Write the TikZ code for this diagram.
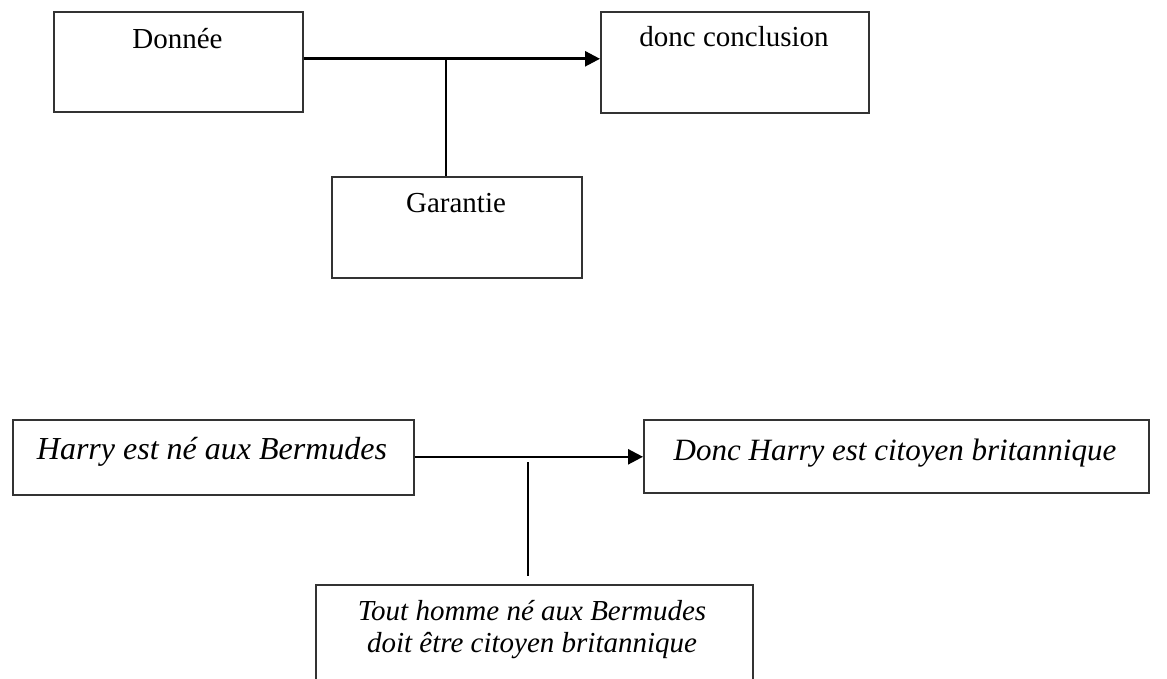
\documentclass[tikz,border=0pt]{standalone}
\usepackage{fontspec}
\setmainfont{Liberation Serif}
\usetikzlibrary{arrows.meta}
\begin{document}
\begin{tikzpicture}[x=1pt,y=-1pt,
  box/.style={draw=black!80,line width=1.6pt,inner sep=0pt,anchor=north west},
  txt/.style={anchor=base,inner sep=0pt,font=\fontsize{29}{34}\selectfont},
  itxt/.style={anchor=base,inner sep=0pt,font=\fontsize{#1}{34}\selectfont\itshape},
  itxt/.default=29,
  arrowline/.style={line width=2.6pt,-{Triangle[length=15pt,width=15pt]}},
  stem/.style={line width=2pt}]
\useasboundingbox (0,0) rectangle (1167,679);

% Top scheme: data, warrant, conclusion
\node[box,minimum width=249pt,minimum height=100pt] (don) at (53,11) {};
\node[box,minimum width=268pt,minimum height=101pt] (con) at (600,11) {};
\node[box,minimum width=250pt,minimum height=101pt] (gar) at (331,176) {};
\node[txt] (donT) at (177.5,49) {Donnée};
\node[txt] (conT) at (734,47) {donc conclusion};
\node[txt] (garT) at (456,212.7) {Garantie};
\draw[arrowline] ([yshift=3pt]don.east) -- ([yshift=3.5pt]con.west);
\coordinate (j1) at (446,58);
\draw[stem] (j1) -- (j1 |- gar.north);

% Bottom scheme: the Bermuda example
\node[box,minimum width=401pt,minimum height=75pt] (har) at (12,419) {};
\node[box,minimum width=505pt,minimum height=73pt] (cit) at (643,419) {};
\node[box,minimum width=437pt,minimum height=120pt] (tout) at (315,584) {};
\node[itxt=32] (harT) at (212,459) {Harry est né aux Bermudes};
\node[itxt=31] (citT) at (895,460) {Donc Harry est citoyen britannique};
\node[itxt] (toutA) at (532,620) {Tout homme né aux Bermudes};
\node[itxt] (toutB) at (532,652) {doit être citoyen britannique};
\draw[arrowline] ([yshift=0.5pt]har.east) -- ([yshift=-0.5pt]cit.west);
\coordinate (j2a) at (528,462);
\coordinate (j2b) at (528,576);
\draw[stem] (j2a) -- (j2b);
\end{tikzpicture}
\end{document}
